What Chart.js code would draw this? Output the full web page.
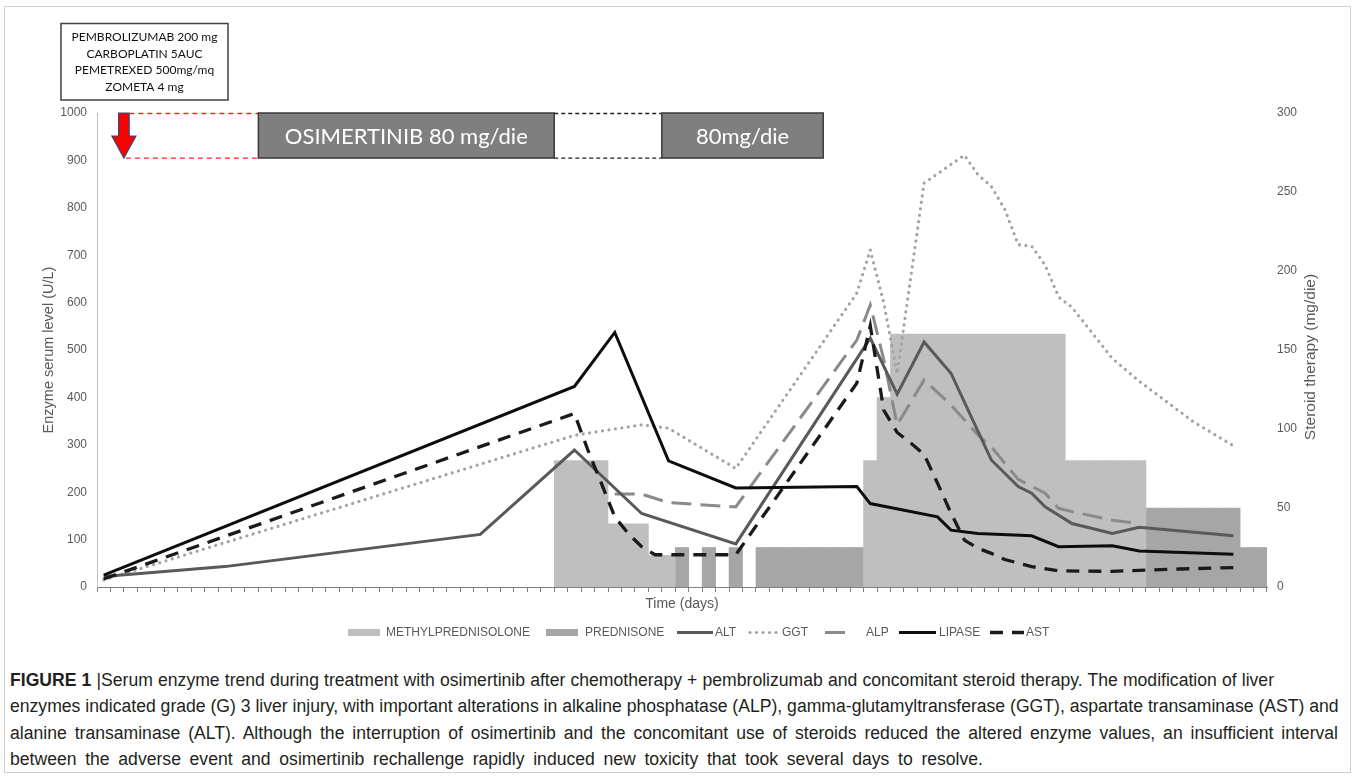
<!DOCTYPE html>
<html>
<head>
<meta charset="utf-8">
<script src="https://cdn.jsdelivr.net/npm/chart.js@4.4.1/dist/chart.umd.min.js"></script>
<style>
body{margin:0;background:#fff;width:1354px;height:777px;overflow:hidden;font-family:"Liberation Sans",Arial,sans-serif}
#frame{position:absolute;left:4px;top:6px;width:1345px;height:765px;border:1px solid #cfcfcf}
#wrap{position:absolute;left:0;top:0;width:1354px;height:650px}
#caption{position:absolute;left:10px;top:667px;width:1328px;font-size:17.6px;line-height:26.3px;color:#231f20}
.ln{white-space:nowrap;text-align:justify;text-align-last:justify}
</style>
</head>
<body>
<div id="frame"></div>
<div id="wrap"><canvas id="graph" width="1354" height="650"></canvas></div>
<div id="caption">
<div class="ln" style="width:1264px"><b>FIGURE 1</b>&nbsp;|Serum enzyme trend during treatment with osimertinib after chemotherapy + pembrolizumab and concomitant steroid therapy. The modification of liver</div>
<div class="ln" style="width:1328px">enzymes indicated grade (G) 3 liver injury, with important alterations in alkaline phosphatase (ALP), gamma-glutamyltransferase (GGT), aspartate transaminase (AST) and</div>
<div class="ln" style="width:1328px">alanine transaminase (ALT). Although the interruption of osimertinib and the concomitant use of steroids reduced the altered enzyme values, an insufficient interval</div>
<div class="ln" style="width:973px">between the adverse event and osimertinib rechallenge rapidly induced new toxicity that took several days to resolve.</div>
</div>
<script>
// days on the x axis
const days = Array.from({length: 87}, (_, i) => i + 1);

// enzymes (U/L): day of measurement and value
const altDays = [1, 10, 29, 36, 41, 48, 58, 60, 62, 64, 67, 69, 70, 71, 73, 76, 78, 85];
const altVals = [22, 43, 111, 289, 155, 91, 525, 407, 517, 451, 268, 212, 198, 169, 134, 113, 126, 108];

const ggtDays = [1, 36, 41, 43, 48, 57, 58, 59, 60, 62, 65, 66, 67, 68, 69, 70, 71, 72, 73, 76, 78, 82, 85];
const ggtVals = [15, 320, 342, 335, 250, 620, 711, 600, 450, 852, 911, 870, 845, 797, 722, 719, 679, 612, 590, 482, 434, 349, 298];

const alpDays = [39, 41, 43, 48, 57, 58, 59, 60, 62, 64, 66, 67, 68, 69, 71, 72, 73, 76, 78];
const alpVals = [196, 196, 178, 169, 521, 595, 480, 342, 437, 384, 321, 296, 261, 227, 198, 166, 159, 141, 134];

const lipDays = [1, 36, 39, 43, 48, 57, 58, 63, 64, 66, 70, 72, 76, 78, 85];
const lipVals = [25, 423, 537, 266, 209, 212, 176, 148, 120, 113, 108, 85, 87, 76, 69];

const astDays = [1, 36, 37, 38, 39, 40, 41, 42, 48, 57, 58, 59, 60, 61, 62, 63, 64, 65, 66, 67, 68, 70, 72, 76, 78, 81, 85];
const astVals = [17, 366, 289, 219, 148, 113, 85, 68, 68, 430, 551, 373, 326, 304, 280, 219, 156, 99, 82, 71, 58, 43, 34, 33, 35, 38, 41];

// steroid therapy (mg/die)
const methylDays = [35, 36, 37, 38, 39, 40, 41, 42, 43, 58, 59, 60, 61, 62, 63, 64, 65, 66, 67, 68, 69, 70, 71, 72, 73, 74, 75, 76, 77, 78];
const methylDose = [80, 80, 80, 80, 40, 40, 40, 20, 20, 80, 120, 160, 160, 160, 160, 160, 160, 160, 160, 160, 160, 160, 160, 160, 80, 80, 80, 80, 80, 80];
const predDays = [44, 46, 48, 50, 51, 52, 53, 54, 55, 56, 57, 79, 80, 81, 82, 83, 84, 85, 86, 87];
const predDose = [25, 25, 25, 25, 25, 25, 25, 25, 25, 25, 25, 50, 50, 50, 50, 50, 50, 50, 25, 25];

// osimertinib periods (first and last day)
const osiLabels = ['OSIMERTINIB 80 mg/die', '80mg/die'];
const osiStart = [13, 43];
const osiEnd = [34, 54];
const chemoLines = ['PEMBROLIZUMAB 200 mg', 'CARBOPLATIN 5AUC', 'PEMETREXED 500mg/mq', 'ZOMETA 4 mg'];
const chemoDay = 2;

function series(dl, vl) {
    const out = days.map(() => null);
    dl.forEach((d, i) => { out[d - 1] = vl[i]; });
    return out;
}

Chart.defaults.font.family = '"Liberation Sans", Arial, sans-serif';
Chart.defaults.color = '#595959';

const lineBase = {type: 'line', pointRadius: 0, spanGaps: true, tension: 0, fill: false, yAxisID: 'y'};

const datasets = [
    Object.assign({}, lineBase, {label: 'ALT', data: series(altDays, altVals), borderColor: '#595959', borderWidth: 3, order: 3}),
    Object.assign({}, lineBase, {label: 'GGT', data: series(ggtDays, ggtVals), borderColor: '#a3a3a3', borderWidth: 3.2, borderDash: [0.01, 6.5], borderCapStyle: 'round', order: 5}),
    Object.assign({}, lineBase, {label: 'ALP', data: series(alpDays, alpVals), borderColor: '#8a8a8a', borderWidth: 3, borderDash: [20, 9], order: 4}),
    Object.assign({}, lineBase, {label: 'LIPASE', data: series(lipDays, lipVals), borderColor: '#0d0d0d', borderWidth: 3, order: 2}),
    Object.assign({}, lineBase, {label: 'AST', data: series(astDays, astVals), borderColor: '#1a1a1a', borderWidth: 3.3, borderDash: [13, 9], order: 1}),
    {type: 'bar', label: 'METHYLPREDNISOLONE', data: series(methylDays, methylDose), backgroundColor: '#bfbfbf', yAxisID: 'y2', barPercentage: 1, categoryPercentage: 1, grouped: false, order: 10},
    {type: 'bar', label: 'PREDNISONE', data: series(predDays, predDose), backgroundColor: '#a6a6a6', yAxisID: 'y2', barPercentage: 1, categoryPercentage: 1, grouped: false, order: 10}
];

const legendItems = [
    {name: 'METHYLPREDNISOLONE', x0: 348, x1: 380, tx: 386},
    {name: 'PREDNISONE', x0: 546, x1: 578, tx: 585},
    {name: 'ALT', x0: 677, x1: 713, tx: 715},
    {name: 'GGT', x0: 750, x1: 781, tx: 782},
    {name: 'ALP', x0: 825, x1: 849, tx: 866},
    {name: 'LIPASE', x0: 899, x1: 936, tx: 939},
    {name: 'AST', x0: 990, x1: 1024, tx: 1026}
];

const extras = {
    id: 'extras',
    afterDraw(chart) {
        const {ctx, scales: {x, y}} = chart;
        const step = x.getPixelForValue(1) - x.getPixelForValue(0);
        const edge = k => x.getPixelForValue(k) - step / 2;
        const top = y.getPixelForValue(1000);
        const bot = y.getPixelForValue(905);
        ctx.save();

        // chemo box
        ctx.strokeStyle = '#404040';
        ctx.lineWidth = 1.5;
        ctx.strokeRect(61, 23.5, 167, 76.5);
        ctx.fillStyle = '#111';
        ctx.font = '12px Lato';
        ctx.textAlign = 'center';
        ctx.textBaseline = 'middle';
        chemoLines.forEach((t, i) => ctx.fillText(t, 144.5, 37.5 + i * 16.5));

        // red arrow
        const ax = edge(chemoDay);
        ctx.beginPath();
        ctx.moveTo(ax - 5.3, top);
        ctx.lineTo(ax + 5.3, top);
        ctx.lineTo(ax + 5.3, top + 23);
        ctx.lineTo(ax + 12, top + 23);
        ctx.lineTo(ax, bot);
        ctx.lineTo(ax - 12, top + 23);
        ctx.lineTo(ax - 5.3, top + 23);
        ctx.closePath();
        ctx.fillStyle = '#ff0000';
        ctx.fill();
        ctx.strokeStyle = '#2e4a7d';
        ctx.lineWidth = 1.2;
        ctx.stroke();

        // dashed connectors
        const dash = (x0, x1, yy, col, pat) => {
            ctx.beginPath();
            ctx.setLineDash(pat);
            ctx.strokeStyle = col;
            ctx.lineWidth = 1.3;
            ctx.moveTo(x0, yy);
            ctx.lineTo(x1, yy);
            ctx.stroke();
            ctx.setLineDash([]);
        };
        const s0 = edge(osiStart[0] - 1);
        dash(ax + 5.5, s0, top + 0.5, '#ff2020', [5, 4]);
        dash(ax + 2, s0, bot, '#ff2020', [5, 4]);
        for (let i = 1; i < osiStart.length; i++) {
            dash(edge(osiEnd[i - 1]), edge(osiStart[i] - 1), top + 0.5, '#222', [4, 3]);
            dash(edge(osiEnd[i - 1]), edge(osiStart[i] - 1), bot, '#222', [4, 3]);
        }

        // osimertinib boxes
        osiLabels.forEach((t, i) => {
            const l = edge(osiStart[i] - 1), r = edge(osiEnd[i]);
            ctx.fillStyle = '#7f7f7f';
            ctx.fillRect(l, top, r - l, bot - top);
            ctx.strokeStyle = '#3a3a3a';
            ctx.lineWidth = 1.5;
            ctx.strokeRect(l, top, r - l, bot - top);
            ctx.fillStyle = '#fff';
            ctx.font = '22px Lato';
            ctx.fillText(t, (l + r) / 2, (top + bot) / 2 + 1);
        });

        // right axis title (reads bottom to top, like the left one)
        ctx.save();
        ctx.translate(1311, 357);
        ctx.rotate(-Math.PI / 2);
        ctx.fillStyle = '#595959';
        ctx.font = '15.5px "Liberation Sans", Arial';
        ctx.fillText('Steroid therapy (mg/die)', 0, 0);
        ctx.restore();

        // legend
        const ly = 632.5;
        ctx.textAlign = 'left';
        ctx.font = '12px "Liberation Sans", Arial';
        legendItems.forEach(it => {
            const ds = chart.data.datasets.find(d => d.label === it.name);
            if (ds.type === 'bar') {
                ctx.fillStyle = ds.backgroundColor;
                ctx.fillRect(it.x0, ly - 3.5, it.x1 - it.x0, 7);
            } else {
                ctx.beginPath();
                ctx.setLineDash(ds.borderDash || []);
                ctx.lineCap = ds.borderCapStyle || 'butt';
                ctx.strokeStyle = ds.borderColor;
                ctx.lineWidth = ds.borderWidth;
                ctx.moveTo(it.x0, ly);
                ctx.lineTo(it.x1, ly);
                ctx.stroke();
                ctx.setLineDash([]);
                ctx.lineCap = 'butt';
            }
            ctx.fillStyle = '#595959';
            ctx.fillText(it.name, it.tx, ly);
        });
        ctx.restore();
    }
};

new Chart(document.getElementById('graph'), {
    type: 'bar',
    data: {labels: days, datasets: datasets},
    options: {
        responsive: false,
        animation: false,
        layout: {padding: {top: 113, left: 36, right: 0, bottom: 33}},
        plugins: {legend: {display: false}, tooltip: {enabled: false}},
        scales: {
            x: {
                offset: true,
                ticks: {display: false, autoSkip: false},
                grid: {offset: true, drawOnChartArea: false, drawTicks: true, tickLength: 5, color: '#808080'},
                border: {color: '#808080'},
                title: {display: true, text: 'Time (days)', font: {size: 14}, color: '#595959'},
                afterFit: s => { s.height = 30; }
            },
            y: {
                position: 'left', min: 0, max: 1000,
                ticks: {stepSize: 100, padding: 10, font: {size: 12}, callback: v => String(v)},
                grid: {display: false, drawTicks: false},
                border: {color: '#bfbfbf'},
                title: {display: true, text: 'Enzyme serum level (U/L)', font: {size: 14.5}, color: '#595959'},
                afterFit: s => { s.width = 61; }
            },
            y2: {
                position: 'right', min: 0, max: 300,
                ticks: {stepSize: 50, padding: 10, font: {size: 12}},
                grid: {display: false, drawTicks: false},
                border: {display: false},
                afterFit: s => { s.width = 87; }
            }
        }
    },
    plugins: [extras]
});
</script>
</body>
</html>
